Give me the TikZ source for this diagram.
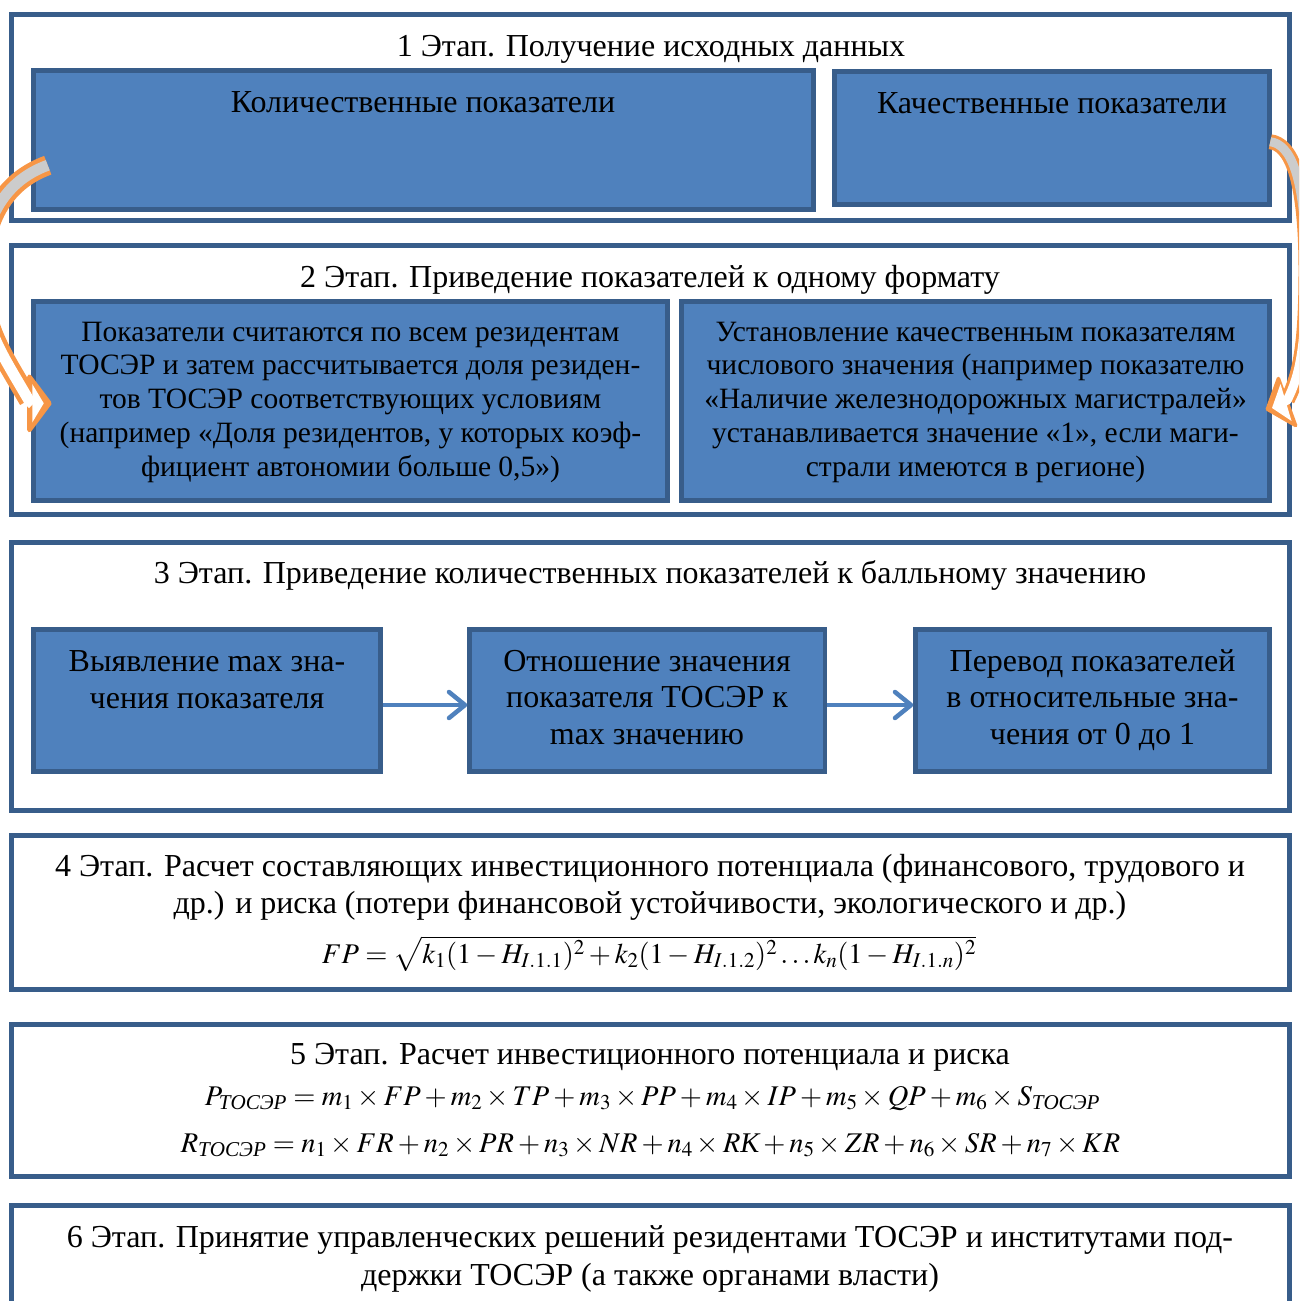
\documentclass[tikz,border=0pt]{standalone}
\usepackage{amsmath}
\usepackage{mathptmx}
\usepackage{fontspec}
\setmainfont{Liberation Serif}
\usetikzlibrary{arrows.meta,calc}
\definecolor{frameblue}{HTML}{385D8A}
\definecolor{boxblue}{HTML}{4F81BD}
\definecolor{bandorange}{HTML}{F79646}
\definecolor{bandgray}{HTML}{CCCCCC}
\newcommand{\tos}{\text{\itshape ТОСЭР}}
\begin{document}
\begin{tikzpicture}[x=1pt, y=1pt,
  font=\fontsize{32pt}{35pt}\selectfont,
  stage/.style={draw=frameblue, line width=5pt, inner sep=0pt, minimum width=1278.5pt},
  box/.style={draw=frameblue, fill=boxblue, line width=4.5pt, inner sep=0pt},
  title/.style={anchor=base, inner sep=0pt, align=center},
  boxtext/.style={anchor=base, inner sep=0pt, align=center},
  formula/.style={anchor=base, inner sep=0pt, font=\fontsize{28.5pt}{34pt}\selectfont},
  flow/.style={draw=boxblue, line width=4.5pt, -{Straight Barb[round, length=16pt, width=26pt]}},
  bandout/.style={draw=bandorange, line width=#1},
  bandin/.style={line width=#1}]
\useasboundingbox (0,0) rectangle (1299,-1301);
\clip (0,0) rectangle (1299,-1301);

% stage frames
\node[stage, minimum height=206.5pt] (s1) at (650.25,-117.25) {};
\node[stage, minimum height=269pt] (s2) at (650.25,-380) {};
\node[stage, minimum height=268pt] (s3) at (650.25,-676.5) {};
\node[stage, minimum height=153.5pt] (s4) at (650.25,-912.25) {};
\node[stage, minimum height=151.5pt] (s5) at (650.25,-1100.25) {};
\node[stage, minimum height=134.5pt] (s6) at (650.25,-1272.75) {};

% stage 1
\node[title] (t1) at (651,-56) {1 Этап. Получение исходных данных};
\node[box, minimum width=780pt, minimum height=139pt] (kol) at (423.5,-140) {};
\node[box, minimum width=435pt, minimum height=133pt] (kach) at (1052,-138) {};
\node[boxtext] (kolt) at (423,-112) {Количественные показатели};
\node[boxtext] (kacht) at (1052,-113) {Качественные показатели};

% stage 2
\node[title] (t2) at (650,-287) {2 Этап. Приведение показателей к одному формату};
\node[box, minimum width=634pt, minimum height=199pt] (pok) at (350.5,-401) {};
\node[box, minimum width=588pt, minimum height=199pt] (ust) at (975.5,-401) {};
\node[boxtext, font=\fontsize{29.5pt}{33.75pt}\selectfont] (pokt) at (350.5,-476)
  {Показатели считаются по всем резидентам\\
   ТОСЭР и затем рассчитывается доля резиден-\\
   тов ТОСЭР соответствующих условиям\\
   (например «Доля резидентов, у которых коэф-\\
   фициент автономии больше 0,5»)};
\node[boxtext, font=\fontsize{29.5pt}{33.75pt}\selectfont] (ustt) at (975.5,-476)
  {Установление качественным показателям\\
   числового значения (например показателю\\
   «Наличие железнодорожных магистралей»\\
   устанавливается значение «1», если маги-\\
   страли имеются в регионе)};

% stage 3
\node[title] (t3) at (650,-583) {3 Этап. Приведение количественных показателей к балльному значению};
\node[box, minimum width=347pt, minimum height=142pt] (vyy) at (207,-700.5) {};
\node[box, minimum width=355.5pt, minimum height=142pt] (otn) at (647.25,-700.5) {};
\node[box, minimum width=354pt, minimum height=142pt] (per) at (1092.5,-700.5) {};
\node[boxtext, font=\fontsize{32pt}{36.5pt}\selectfont] (vyyt) at (207,-708)
  {Выявление max зна-\\чения показателя};
\node[boxtext, font=\fontsize{32pt}{36.5pt}\selectfont] (otnt) at (647,-744)
  {Отношение значения\\показателя ТОСЭР к\\max значению};
\node[boxtext, font=\fontsize{32pt}{36.5pt}\selectfont] (pert) at (1092.5,-744)
  {Перевод показателей\\в относительные зна-\\чения от 0 до 1};
\draw[flow] ([yshift=-4.5pt]vyy.east) -- ([yshift=-4.5pt]otn.west);
\draw[flow] ([yshift=-4.5pt]otn.east) -- ([yshift=-4.5pt]per.west);

% stage 4
\node[title, font=\fontsize{32pt}{37pt}\selectfont] (t4) at (650,-913)
  {4 Этап. Расчет составляющих инвестиционного потенциала (финансового, трудового и\\
   др.) и риска (потери финансовой устойчивости, экологического и др.)};
\node[formula] (f4) at (649,-963)
  {$FP=\sqrt{k_1(1-H_{I.1.1})^2+k_2(1-H_{I.1.2})^2\ldots k_n(1-H_{I.1.n})^2}$};

% stage 5
\node[title] (t5) at (650,-1064) {5 Этап. Расчет инвестиционного потенциала и риска};
\node[formula] (f5a) at (652.5,-1105)
  {$P_{\tos}=m_1\times FP+m_2\times TP+m_3\times PP+m_4\times IP+m_5\times QP+m_6\times S_{\tos}$};
\node[formula] (f5b) at (650.5,-1152)
  {$R_{\tos}=n_1\times FR+n_2\times PR+n_3\times NR+n_4\times R\text{\itshape К}+n_5\times ZR+n_6\times SR+n_7\times KR$};

% stage 6
\node[title, font=\fontsize{32pt}{38pt}\selectfont] (t6) at (650,-1285)
  {6 Этап. Принятие управленческих решений резидентами ТОСЭР и институтами под-\\
   держки ТОСЭР (а также органами власти)};

% orange curved arrows
\coordinate (ltail) at ($(kol.south west)+(16.5,46.5)$);
\coordinate (lend) at ($(pok.west)+(-2.5,1)$);
\draw[bandout=20pt] (ltail) to[out=200,in=90] (-18,-275) to[out=-90,in=120] (lend);
\filldraw[draw=bandorange, fill=bandorange, line width=4.5pt, line join=round]
  ($(pok.west)+(-1.8,24.3)$) -- ($(pok.west)+(18.2,-2.3)$) -- ($(pok.west)+(-1.8,-29)$) -- cycle;
\draw[bandin=11pt, draw=bandgray] (ltail) to[out=200,in=90] (-18,-275);
\draw[bandin=11pt, draw=white] (-18,-275) to[out=-90,in=120] (lend) -- ++(-45:6);
\fill[white] ($(pok.west)+(1,17)$) -- ($(pok.west)+(12.5,-2.3)$) -- ($(pok.west)+(1,-21.5)$) -- cycle;

\coordinate (rtail) at ($(kach.north east)+(-1.5,-72.5)$);
\coordinate (rend) at ($(ust.east)+(15.5,1)$);
\draw[bandout=15pt] (rtail) .. controls (1290,-144) and (1306,-175) .. (1306,-270)
  .. controls (1306,-345) and (1300,-375) .. (rend);
\filldraw[draw=bandorange, fill=bandorange, line width=3.5pt, line join=round]
  (1278.4,-378.5) -- (1267.3,-409.2) -- (1295.6,-425.5) -- cycle;
\draw[bandin=9pt, draw=bandgray] (rtail) .. controls (1290,-144) and (1306,-175) .. (1306,-270);
\draw[bandin=9pt, draw=white] (1306,-270) .. controls (1306,-345) and (1300,-375) .. (rend) -- ++(210:5);
\fill[white] (1280.5,-384) -- (1272,-408) -- (1291.5,-421) -- cycle;
\end{tikzpicture}
\end{document}
